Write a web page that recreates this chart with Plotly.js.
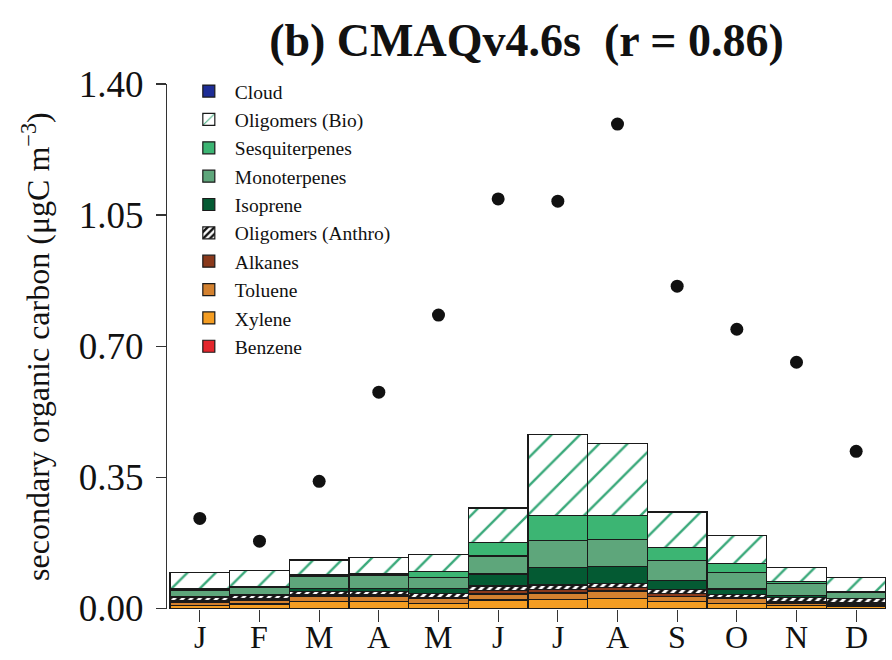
<!DOCTYPE html>
<html>
<head>
<meta charset="utf-8">
<script src="https://cdn.plot.ly/plotly-3.0.1.min.js"></script>
<style>html,body{margin:0;padding:0;background:#fff;}#chart{width:892px;height:660px;}</style>
</head>
<body>
<div id="chart"></div>
<script>
const months = ["J","F","M","A","M","J","J","A","S","O","N","D"];
const monthIdx = [1,2,3,4,5,6,7,8,9,10,11,12];

const benzene        = [0,0,0,0,0,0,0,0,0,0,0,0];
const xylene         = [0.008,0.0115,0.018,0.018,0.0135,0.022,0.024,0.025,0.018,0.013,0.007,0.006];
const toluene        = [0.007,0.009,0.013,0.013,0.0115,0.016,0.017,0.021,0.013,0.012,0.007,0.0055];
const alkanes        = [0.0045,0.004,0.0045,0.0045,0.0035,0.009,0.010,0.009,0.009,0.0035,0.005,0.0045];
const oligomersAnthro= [0.009,0.0095,0.009,0.009,0.0107,0.0125,0.011,0.012,0.011,0.009,0.009,0.009];
const isoprene       = [0.003,0.003,0.009,0.009,0.0145,0.032,0.047,0.045,0.023,0.014,0.005,0.002];
const monoterpenes   = [0.016,0.018,0.031,0.0355,0.028,0.048,0.072,0.072,0.053,0.045,0.033,0.015];
const sesquiterpenes = [0.004,0.0035,0.0045,0.0045,0.016,0.036,0.067,0.064,0.035,0.024,0.006,0.003];
const oligomersBio   = [0.043,0.042,0.040,0.042,0.0465,0.092,0.217,0.191,0.095,0.074,0.037,0.037];
const cloud          = [0,0,0,0,0,0,0,0,0,0,0,0];

const observed = [0.24,0.179,0.339,0.577,0.783,1.093,1.087,1.293,0.860,0.745,0.657,0.419];

const yTicks = [0,0.35,0.70,1.05,1.40];

const serif = "Liberation Serif, Times New Roman, serif";
const edge = {color:"#1a1a1a", width:1.2};

function bar(name, vals, color, pattern){
  const m = {color: color, line: edge};
  if (pattern) m.pattern = pattern;
  return {type:"bar", name:name, x:monthIdx, y:vals, marker:m, width:1, hoverinfo:"skip"};
}

const traces = [
  bar("Benzene", benzene, "#e3262c"),
  bar("Xylene", xylene, "#f49d22"),
  bar("Toluene", toluene, "#d3812f"),
  bar("Alkanes", alkanes, "#8a391b"),
  bar("Oligomers (Anthro)", oligomersAnthro, "#ffffff", {shape:"/", fgcolor:"#111111", bgcolor:"#ffffff", size:6, solidity:0.5}),
  bar("Isoprene", isoprene, "#045a33"),
  bar("Monoterpenes", monoterpenes, "#5ea67b"),
  bar("Sesquiterpenes", sesquiterpenes, "#3cb573"),
  bar("Oligomers (Bio)", oligomersBio, "#ffffff", {shape:"/", fgcolor:"#3aa97a", bgcolor:"#ffffff", size:20, solidity:0.12}),
  bar("Cloud", cloud, "#1e2d96"),
  {type:"scatter", mode:"markers", x:monthIdx, y:observed, showlegend:false,
   marker:{color:"#111111", size:13}, hoverinfo:"skip"}
];

const monthLabels = months.map((m, i) => ({
  text: m, xref: "x", yref: "paper", x: monthIdx[i], y: -0.054,
  xanchor: "center", yanchor: "middle", showarrow: false,
  font: {family: serif, size: 32, color: "#111"}
}));

const layout = {
  width:892, height:660,
  margin:{l:167, r:6, t:84, b:51},
  paper_bgcolor:"#ffffff", plot_bgcolor:"#ffffff",
  barmode:"stack", bargap:0,
  font:{family:serif, color:"#111111"},
  title:{text:"<b>(b) CMAQv4.6s  (r = 0.86)</b>", font:{family:serif, size:46, color:"#111111"},
         xref:"paper", x:0.5, xanchor:"center", yref:"container", y:0.94, yanchor:"middle"},
  xaxis:{range:[0.45,12.5], tickmode:"array", tickvals:monthIdx, ticktext:months,
         showticklabels:false,
         ticks:"outside", ticklen:12, tickwidth:1.2, tickcolor:"#333",
         showline:false, showgrid:false, zeroline:false},
  yaxis:{range:[-0.002,1.4], tickmode:"array", tickvals:yTicks,
         ticktext:yTicks.map(v=>v.toFixed(2)),
         ticks:"outside", ticklen:10, tickwidth:1.2, tickcolor:"#333",
         showline:true, linecolor:"#333", linewidth:1.2,
         showgrid:false, zeroline:false, ticklabelstandoff:5,
         tickfont:{family:serif, size:37, color:"#111"}},
  legend:{x:0.022, xanchor:"left", y:1.023, yanchor:"top", traceorder:"reversed",
          itemwidth:42,
          bgcolor:"rgba(0,0,0,0)", font:{family:serif, size:19.5, color:"#111"}},
  annotations:[{text:"secondary organic carbon (μgC m<sup>−3</sup>)", xref:"paper", yref:"paper",
                x:-0.183, y:0.5, xanchor:"center", yanchor:"middle", textangle:-90,
                showarrow:false, font:{family:serif, size:32, color:"#111"}}].concat(monthLabels)
};

Plotly.newPlot("chart", traces, layout, {displayModeBar:false, staticPlot:true});
</script>
</body>
</html>
